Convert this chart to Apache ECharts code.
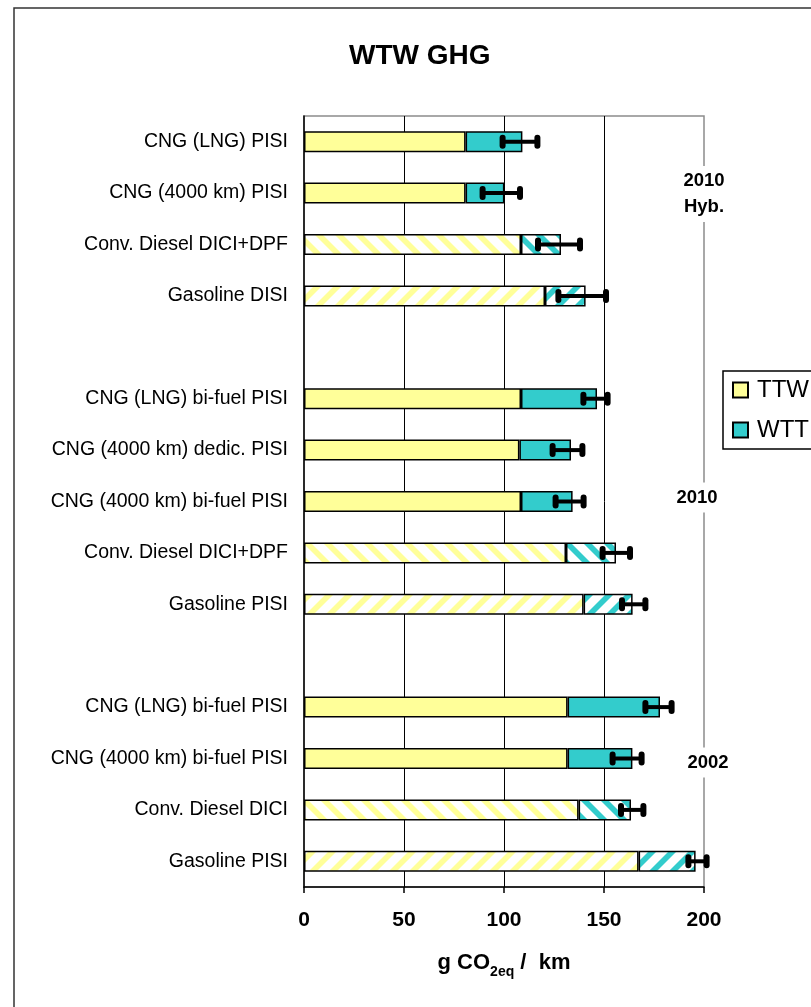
<!DOCTYPE html>
<html>
<head>
<meta charset="utf-8">
<script src="https://cdn.jsdelivr.net/npm/echarts@6/dist/echarts.min.js"></script>
<style>
  html, body { margin: 0; padding: 0; background: #fff; }
  #chart { width: 811px; height: 1007px; }
</style>
</head>
<body>
<div id="chart"></div>
<script>
// Vehicle configurations, top to bottom (empty entries separate the groups)
const categories = [
  'CNG (LNG) PISI', 'CNG (4000 km) PISI', 'Conv. Diesel DICI+DPF', 'Gasoline DISI', '',
  'CNG (LNG) bi-fuel PISI', 'CNG (4000 km) dedic. PISI', 'CNG (4000 km) bi-fuel PISI', 'Conv. Diesel DICI+DPF', 'Gasoline PISI', '',
  'CNG (LNG) bi-fuel PISI', 'CNG (4000 km) bi-fuel PISI', 'Conv. Diesel DICI', 'Gasoline PISI'
];
// Tank-to-wheels and well-to-tank emissions, g CO2eq / km
const ttw = [80.8, 80.8, 108.5, 120.5, null, 108.5, 107.7, 108.5, 131, 139.8, null, 131.8, 131.8, 137.3, 167.3];
const wtt = [28.4, 19.4, 20.0, 20.3, null, 38.0, 25.8, 25.8, 25.0, 24.5, null, 46.2, 32.4, 26.2, 28.5];
// Uncertainty range of the total
const errLow  = [99.3, 89.3, 117.0, 127.2, null, 139.7, 124.3, 125.8, 149.3, 159.0, null, 170.7, 154.3, 158.5, 192.2];
const errHigh = [116.7, 108.0, 138.0, 151.0, null, 151.8, 139.2, 139.8, 163.0, 170.7, null, 183.8, 168.8, 169.7, 201.3];
// Axis ticks
const xTicks = [0, 50, 100, 150, 200];
// Period labels and the rows they sit beside
const periodLabels = ['2010\nHyb.', '2010', '2002'];
const periodRows = [1, 7, 12];

const YELLOW = '#FFFF99';
const TEAL = '#33CCCC';

// Diagonal stripe tile built from filled bands: 'fwd' draws "/", 'back' draws "\"
function stripes(color, dir) {
  const s = 20, w = 8;
  const c = document.createElement('canvas');
  c.width = s; c.height = s;
  const g = c.getContext('2d');
  g.fillStyle = '#fff';
  g.fillRect(0, 0, s, s);
  g.fillStyle = color;
  for (let k = -2; k <= 2; k++) {
    const x0 = k * s;
    g.beginPath();
    if (dir === 'back') {
      // band between x - y = x0 and x - y = x0 + w
      g.moveTo(x0, 0); g.lineTo(x0 + w, 0); g.lineTo(x0 + w + s, s); g.lineTo(x0 + s, s);
    } else {
      // band between x + y = x0 + s and x + y = x0 + s + w
      g.moveTo(x0 + s, 0); g.lineTo(x0 + s + w, 0); g.lineTo(x0 + w, s); g.lineTo(x0, s);
    }
    g.closePath();
    g.fill();
  }
  return { image: c, repeat: 'repeat' };
}

function fillFor(name, base) {
  if (/Diesel/.test(name)) return stripes(base, 'back');
  if (/Gasoline/.test(name)) return stripes(base, 'fwd');
  return base;
}

function barData(values, base) {
  return values.map((v, i) => v == null ? '-' : { value: v, itemStyle: { color: fillFor(categories[i], base) } });
}

const errData = [];
errLow.forEach((lo, i) => { if (lo != null) errData.push([lo, errHigh[i], i]); });

const labelOffsets = [[0, 1], [-7, -4], [4, 4]];

const chart = echarts.init(document.getElementById('chart'), null, { renderer: 'canvas' });
chart.setOption({
  animation: false,
  textStyle: { fontFamily: 'Liberation Sans, Arial, sans-serif', color: '#000' },
  title: {
    text: 'WTW GHG', left: 349, top: 42, padding: 0,
    textStyle: { fontSize: 28, fontWeight: 'bold', color: '#000', fontFamily: 'Liberation Sans, Arial, sans-serif' }
  },
  legend: {
    data: ['TTW', 'WTT'],
    orient: 'vertical', left: 723, top: 371,
    padding: [6, 40, 6, 9],
    borderColor: '#000', borderWidth: 1.5,
    itemWidth: 15, itemHeight: 15, itemGap: 14, icon: 'rect',
    textStyle: { fontSize: 24, lineHeight: 26, color: '#000', padding: [0, 0, 0, 4] }
  },
  grid: {
    left: 304, right: 107, top: 116, bottom: 120,
    show: true, borderColor: '#8c8c8c', borderWidth: 1.5, backgroundColor: 'transparent'
  },
  xAxis: {
    type: 'value', min: xTicks[0], max: xTicks[xTicks.length - 1], interval: 50,
    axisLine: { show: true, lineStyle: { color: '#000', width: 1.5 } },
    axisTick: { show: true, length: 6, lineStyle: { color: '#000', width: 1.5 } },
    splitLine: { show: true, showMinLine: false, showMaxLine: false, lineStyle: { color: '#000', width: 1 } },
    axisLabel: { fontSize: 21, fontWeight: 'bold', color: '#000', margin: 23 },
    name: '{a|g CO}{s|2eq}{a| /  km}',
    nameLocation: 'middle', nameGap: 65,
    nameTextStyle: {
      rich: {
        a: { fontSize: 22, fontWeight: 'bold', color: '#000', lineHeight: 24, verticalAlign: 'top' },
        s: { fontSize: 14, fontWeight: 'bold', color: '#000', lineHeight: 14, verticalAlign: 'top', padding: [13, 0, 0, 0] }
      }
    }
  },
  yAxis: {
    type: 'category', data: categories, inverse: true,
    axisLine: { show: true, lineStyle: { color: '#000', width: 1.5 } },
    axisTick: { show: false },
    splitLine: { show: false },
    axisLabel: { fontSize: 19.5, color: '#000', margin: 16 }
  },
  series: [
    {
      name: 'TTW', type: 'bar', stack: 'wtw', barWidth: 21,
      itemStyle: { color: YELLOW, borderColor: '#000', borderWidth: 1.5 },
      emphasis: { disabled: true },
      data: barData(ttw, YELLOW)
    },
    {
      name: 'WTT', type: 'bar', stack: 'wtw', barWidth: 21,
      itemStyle: { color: TEAL, borderColor: '#000', borderWidth: 1.5 },
      emphasis: { disabled: true },
      data: barData(wtt, TEAL)
    },
    {
      name: 'range', type: 'custom', z: 5, silent: true,
      encode: { x: [0, 1], y: 2 },
      data: errData,
      renderItem: function (params, api) {
        const cat = api.value(2);
        const p1 = api.coord([api.value(0), cat]);
        const p2 = api.coord([api.value(1), cat]);
        const y = p1[1];
        const cap = (x) => ({ type: 'rect', shape: { x: x - 3, y: y - 7, width: 6, height: 14, r: 3 }, style: { fill: '#000' } });
        return {
          type: 'group',
          children: [
            { type: 'line', shape: { x1: p1[0], y1: y, x2: p2[0], y2: y }, style: { stroke: '#000', lineWidth: 4 } },
            cap(p1[0]), cap(p2[0])
          ]
        };
      }
    },
    {
      name: 'period', type: 'scatter', z: 6, silent: true, symbolSize: 0,
      itemStyle: { opacity: 1 },
      data: periodRows.map((r, i) => ({
        value: [xTicks[xTicks.length - 1], r],
        label: { offset: labelOffsets[i] }
      })),
      label: {
        show: true, position: 'inside', opacity: 1,
        formatter: (p) => periodLabels[p.dataIndex],
        fontSize: 18.5, fontWeight: 'bold', lineHeight: 26, color: '#000',
        textBorderWidth: 0, textBorderColor: 'transparent',
        backgroundColor: '#fff', padding: [2, 2]
      }
    }
  ],
  graphic: [
    {
      type: 'rect', z: 100, silent: true,
      shape: { x: 14, y: 8, width: 830, height: 1030 },
      style: { fill: null, stroke: '#333', lineWidth: 1.5 }
    }
  ]
});
</script>
</body>
</html>
